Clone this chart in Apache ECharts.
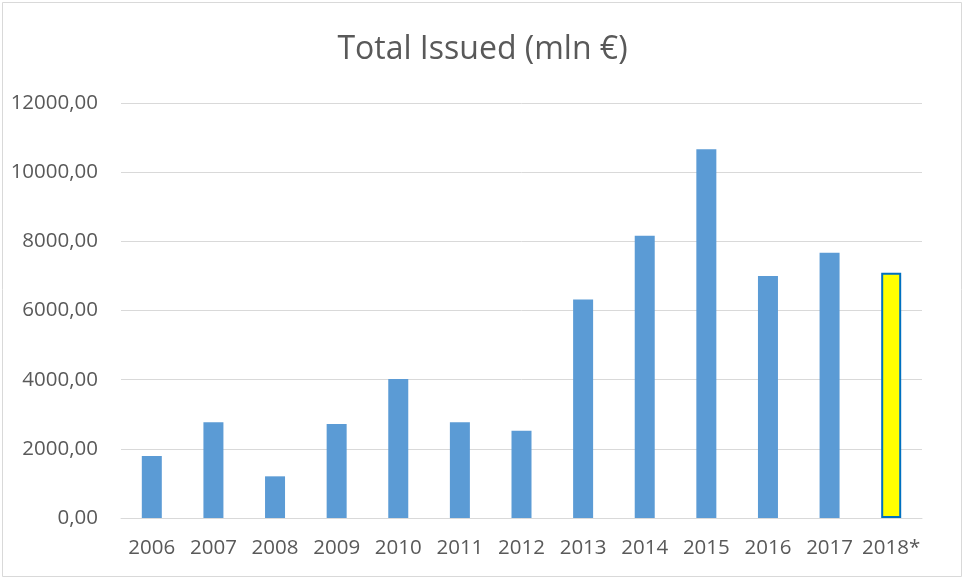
<!DOCTYPE html>
<html>
<head>
<meta charset="utf-8">
<script src="https://cdn.jsdelivr.net/npm/echarts@6/dist/echarts.min.js"></script>
<style>
  html, body { margin: 0; padding: 0; background: #fff; }
  #chart { width: 965px; height: 580px; }
</style>
</head>
<body>
<div id="chart"></div>
<script>
// Yearly totals issued, in million euro (2018 is provisional)
const years = ['2006', '2007', '2008', '2009', '2010', '2011', '2012', '2013', '2014', '2015', '2016', '2017', '2018*'];
const issued = [1792, 2766, 1205, 2717, 4017, 2766, 2523, 6320, 8159, 10665, 6994, 7668, 7090];
const highlightYear = '2018*';

const chart = echarts.init(document.getElementById('chart'));

const barData = issued.map((v, i) => {
  if (years[i] === highlightYear) {
    return {
      value: v,
      itemStyle: { color: '#FFFF00', borderColor: '#0070C0', borderWidth: 2 }
    };
  }
  return v;
});

const fmt = v => v.toFixed(2).replace('.', ',');

chart.setOption({
  animation: false,
  backgroundColor: '#ffffff',
  textStyle: { fontFamily: 'Open Sans' },
  title: {
    text: 'Total Issued (mln €)',
    left: 'center',
    top: 29,
    textStyle: { fontFamily: 'Open Sans', fontSize: 32, fontWeight: 'normal', color: '#595959' }
  },
  graphic: [{
    type: 'rect',
    shape: { x: 2.5, y: 2.5, width: 959, height: 574 },
    style: { fill: 'none', stroke: '#D9D9D9', lineWidth: 1 },
    silent: true
  }],
  grid: { left: 121, right: 43, top: 103, bottom: 62 },
  xAxis: {
    type: 'category',
    data: years,
    axisLine: { show: true, lineStyle: { color: '#D9D9D9', width: 1 } },
    axisTick: { show: false },
    axisLabel: { interval: 0, color: '#595959', fontSize: 20.5, margin: 20, fontFamily: 'Open Sans' }
  },
  yAxis: {
    type: 'value',
    min: 0,
    max: 12000,
    interval: 2000,
    axisLine: { show: false },
    axisTick: { show: false },
    splitLine: { lineStyle: { color: '#D9D9D9', width: 1 } },
    axisLabel: { color: '#595959', fontSize: 20.5, margin: 23, fontFamily: 'Open Sans', formatter: fmt }
  },
  series: [{
    type: 'bar',
    data: barData,
    barWidth: 20,
    itemStyle: { color: '#5B9BD5' }
  }]
});
</script>
</body>
</html>
